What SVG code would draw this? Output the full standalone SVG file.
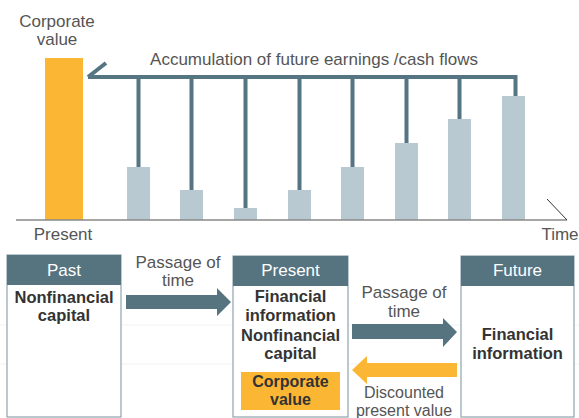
<svg xmlns="http://www.w3.org/2000/svg" width="579" height="418" viewBox="0 0 579 418">
<style>
text{font-family:"Liberation Sans",Arial,sans-serif;}
.lbl{font-size:17px;fill:#555;text-anchor:middle;}
.sm{font-size:16px;}
.hdr{font-size:17px;fill:#fff;text-anchor:middle;}
.bd{font-size:16.5px;fill:#333;font-weight:bold;text-anchor:middle;}
.cv{font-size:16px;}
.bar{fill:#b9c9d1;}
.stick{stroke:#567582;stroke-width:4;fill:none;}
.box{fill:#fff;stroke:#8ea3ad;stroke-width:1.2;}
.head{fill:#567480;}
</style>
<rect width="579" height="418" fill="#fff"/>
<g id="faint" stroke="#f0f3f4" stroke-width="1">
<line x1="0" y1="325" x2="579" y2="325"/>
<line x1="0" y1="364" x2="579" y2="364"/>
</g>
<g id="chart">
<rect x="45" y="58" width="38" height="162" fill="#fbb733"/>
<rect class="bar" x="127" y="167" width="23" height="53"/>
<rect class="bar" x="180" y="190" width="23" height="30"/>
<rect class="bar" x="234" y="208" width="23" height="12"/>
<rect class="bar" x="288" y="190" width="23" height="30"/>
<rect class="bar" x="341" y="167" width="23" height="53"/>
<rect class="bar" x="395" y="143" width="23" height="77"/>
<rect class="bar" x="448" y="119" width="23" height="101"/>
<rect class="bar" x="502" y="96" width="23" height="124"/>
<line x1="16" y1="220" x2="567" y2="220" stroke="#888" stroke-width="1.6"/>
<line x1="547" y1="199" x2="567" y2="220" stroke="#333" stroke-width="1"/>
<text class="lbl" x="57" y="27">Corporate</text>
<text class="lbl" x="57" y="45">value</text>
<text class="lbl" x="63" y="240">Present</text>
<text class="lbl" x="560" y="240">Time</text>
<text class="lbl" x="314" y="65">Accumulation of future earnings /cash flows</text>
</g>
<g id="connectors">
<path class="stick" d="M88,77 L106,63 M88,77 H515.5 V96 M138.5,77 V167 M191.5,77 V190 M245.5,77 V208 M299.5,77 V190 M352.5,77 V167 M406.5,77 V143 M459.5,77 V119"/>
<path d="M126,295 H217 V288 L231,302 L217,316 V309 H126 Z" fill="#567480"/>
<path d="M352,324 H443 V318 L457,332 L443,347 V339 H352 Z" fill="#567480"/>
<path d="M457,363 H367 V356 L352,370 L367,384 V377 H457 Z" fill="#fbb733"/>
<text class="lbl" x="178" y="268">Passage of</text>
<text class="lbl" x="178" y="286">time</text>
<text class="lbl" x="404" y="298">Passage of</text>
<text class="lbl" x="404" y="317">time</text>
<text class="lbl sm" x="404" y="398">Discounted</text>
<text class="lbl sm" x="404" y="416">present value</text>
</g>
<g id="past">
<rect class="box" x="7" y="255" width="114" height="162"/>
<rect class="head" x="7" y="255" width="114" height="30"/>
<text class="hdr" x="64" y="276">Past</text>
<text class="bd" x="64" y="303">Nonfinancial</text>
<text class="bd" x="64" y="321">capital</text>
</g>
<g id="present">
<rect class="box" x="233" y="256" width="115" height="161"/>
<rect class="head" x="233" y="256" width="115" height="30"/>
<text class="hdr" x="290.5" y="276">Present</text>
<text class="bd" x="290.5" y="302">Financial</text>
<text class="bd" x="290.5" y="321">information</text>
<text class="bd" x="290.5" y="341">Nonfinancial</text>
<text class="bd" x="290.5" y="359">capital</text>
<rect x="241" y="372" width="99" height="38" fill="#fbb733"/>
<text class="bd cv" x="290.5" y="387">Corporate</text>
<text class="bd cv" x="290.5" y="405">value</text>
</g>
<g id="future">
<rect class="box" x="461" y="256" width="113" height="161"/>
<rect class="head" x="461" y="256" width="113" height="30"/>
<text class="hdr" x="517.5" y="276">Future</text>
<text class="bd" x="517.5" y="340">Financial</text>
<text class="bd" x="517.5" y="359">information</text>
</g>
</svg>
